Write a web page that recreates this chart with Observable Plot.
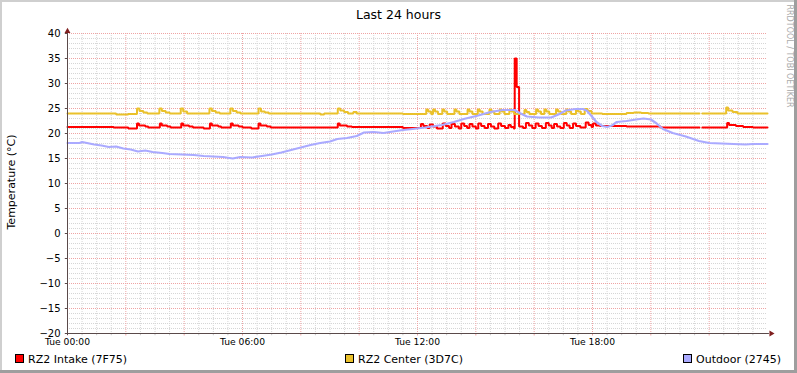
<!DOCTYPE html>
<html><head><meta charset="utf-8">
<script src="https://cdn.jsdelivr.net/npm/d3@7"></script>
<script src="https://cdn.jsdelivr.net/npm/@observablehq/plot@0.6"></script>
<style>
body{margin:0;background:#fff;}
#chart{position:relative;width:797px;height:373px;background:#fff;overflow:hidden;font-family:"DejaVu Sans",sans-serif;}
#chart svg{position:absolute;left:0;top:0;}
.t{position:absolute;white-space:nowrap;color:#000;}
.sw{position:absolute;width:9px;height:9px;box-sizing:border-box;border:1px solid #000;}
.edge{position:absolute;}
</style></head><body><div id="chart"></div>
<script>
// ---- data (minutes since Tue 00:00, °C) ----
const title = "Last 24 hours";
const yLabel = "Temperature (°C)";
const credit = "RRDTOOL / TOBI OETIKER";
const yTicks = [-20,-15,-10,-5,0,5,10,15,20,25,30,35,40];
const xTicks = [0,360,720,1080];
const xTickLabels = ["Tue 00:00","Tue 06:00","Tue 12:00","Tue 18:00"];
const seriesNames = ["RZ2 Intake (7F75)","RZ2 Center (3D7C)","Outdoor (2745)"];
const seriesColors = ["#ff0000","#eac12b","#aaaaff"];

const intake = [[0,21.3],[95,21.2],[125,21.0],[143,22.0],[147,21.6],[160,21.4],[166,21.2],
[190,22.0],[194,21.6],[205,21.4],[212,21.2],[234,22.0],[238,21.6],[250,21.4],[258,21.2],
[280,21.0],[293,22.0],[297,21.6],[310,21.4],[316,21.2],[336,22.0],[340,21.6],[352,21.4],[360,21.2],
[378,21.0],[393,22.0],[397,21.6],[410,21.4],[418,21.2],[556,22.0],[560,21.6],[575,21.4],[585,21.3],
[690,21.1],[727,21.9],[732,21.5],[740,21.1],[745,21.8],[752,21.4],[760,21.0],[772,22.0],[778,21.5],[785,21.1],
[790,21.9],[797,21.4],[805,21.0],[810,22.0],[816,21.5],[822,21.1],[827,21.9],[833,21.4],[840,21.0],
[845,22.0],[851,21.5],[858,21.1],[865,21.9],[871,21.4],[878,21.0],[886,22.0],[892,21.5],[900,21.1],
[907,21.7],[912,21.3],[918,21.0],[920,35.0],[924,29.3],[929,21.4],[937,21.1],[943,22.1],[949,21.6],[956,21.1],
[963,22.0],[969,21.5],[976,21.1],[984,22.1],[990,21.6],[996,21.1],[1001,21.9],[1007,21.4],[1014,21.1],
[1021,22.1],[1027,21.6],[1033,21.1],[1040,22.0],[1046,21.5],[1055,21.2],[1066,22.2],[1072,21.7],[1078,21.3],
[1081,22.0],[1087,21.6],[1095,21.5],[1150,21.4],[1220,21.2],[1300,21.2],[1302,NaN],[1306,21.2],
[1357,22.1],[1361,21.7],[1375,21.5],[1390,21.3],[1410,21.2],[1440,21.2]];

const center = [[0,24.0],[100,23.8],[125,23.9],[143,25.0],[148,24.5],[156,24.2],[164,24.0],
[189,25.0],[194,24.5],[202,24.2],[210,24.0],[233,25.0],[238,24.4],[246,24.0],
[292,25.0],[297,24.5],[305,24.2],[313,24.0],[335,25.0],[340,24.5],[348,24.2],[356,24.0],
[393,25.0],[398,24.4],[406,24.2],[414,24.0],[520,23.8],[528,24.0],[556,25.0],[561,24.6],[569,24.3],[577,24.0],
[588,24.3],[595,24.0],[690,23.9],
[738,24.8],[742,24.4],[748,23.9],[752,24.8],[756,24.4],[762,23.9],[771,24.8],[775,24.4],[781,23.9],
[796,24.8],[800,24.4],[806,23.9],[823,24.8],[827,24.4],[833,23.9],[844,24.8],[848,24.4],[854,23.9],
[868,24.8],[872,24.4],[878,23.9],[889,24.8],[893,24.4],[899,23.9],[909,24.8],[913,24.4],[919,23.9],
[940,24.7],[944,24.3],[950,23.9],[964,24.8],[968,24.4],[974,23.9],[981,24.8],[985,24.4],[991,23.9],
[1005,24.8],[1009,24.4],[1015,23.9],[1026,24.8],[1030,24.4],[1036,23.9],[1046,24.8],[1050,24.4],[1056,23.9],
[1064,24.9],[1070,24.5],[1078,24.0],[1100,23.9],[1150,24.1],[1165,24.2],[1180,24.1],[1195,24.0],
[1300,24.0],[1302,NaN],[1306,24.0],[1355,25.2],[1359,24.6],[1368,24.3],[1378,24.0],[1440,24.0]];

const outdoor = [[0,18.1],[25,18.1],[30,18.3],[40,18.1],[55,17.8],[70,17.6],[85,17.3],[100,17.4],[115,17.0],
[130,16.8],[145,16.4],[160,16.6],[175,16.3],[195,16.1],[210,15.9],[235,15.8],[260,15.7],[280,15.5],[300,15.4],
[320,15.3],[340,15.0],[355,15.3],[380,15.2],[400,15.5],[420,15.8],[440,16.2],[460,16.7],[480,17.2],[500,17.7],
[520,18.1],[540,18.4],[555,18.9],[575,19.1],[595,19.5],[610,20.2],[630,20.3],[650,20.1],[670,20.4],[690,20.7],
[710,20.9],[735,21.2],[770,21.7],[795,22.3],[815,22.9],[845,23.6],[870,24.3],[895,24.7],[920,24.7],[930,24.1],
[945,23.4],[970,23.2],[995,23.2],[1010,23.8],[1025,24.6],[1045,24.9],[1060,24.9],[1068,24.6],[1078,23.5],
[1088,22.3],[1100,21.5],[1110,21.3],[1120,21.6],[1130,22.3],[1150,22.5],[1170,22.8],[1185,23.0],[1200,22.8],
[1212,22.0],[1225,20.9],[1245,20.1],[1272,19.4],[1299,18.5],[1320,18.1],[1345,18.0],[1370,17.9],[1395,17.8],
[1410,17.9],[1440,17.9]];

// ---- build ----
const seriesData = [intake, center, outdoor];
const rows = s => s.map(([t, v]) => ({t, v}));
const minorY = d3.range(-19, 40).filter(d => d % 5 !== 0);
const majorX = d3.range(0, 1440, 120);
const minorX = d3.range(30, 1440, 30).filter(d => d % 120 !== 0);
const axisColor = "#5a4a4a", arrowColor = "#7f1f1f";
const majorGrid = "#efa4a4", minorGrid = "#d6d6d6";

const svg = Plot.plot({
  width: 797, height: 373,
  marginTop: 33, marginRight: 30, marginBottom: 40, marginLeft: 67,
  style: {fontFamily: "'DejaVu Sans', sans-serif", background: "transparent", color: "#000", overflow: "visible"},
  x: {type: "linear", domain: [0, 1440]},
  y: {type: "linear", domain: [-20, 40]},
  marks: [
    Plot.ruleY(minorY, {stroke: minorGrid, strokeDasharray: "1,1"}),
    Plot.ruleX(minorX, {stroke: minorGrid, strokeDasharray: "1,1"}),
    Plot.ruleY(yTicks.filter(d => d > -20), {stroke: majorGrid, strokeDasharray: "1,1"}),
    Plot.ruleX(majorX.filter(d => d > 0), {stroke: majorGrid, strokeDasharray: "1,1"}),
    Plot.ruleX(minorX, {y1: -20.45, y2: -20, stroke: "#c8c8c8"}),
    Plot.ruleX(majorX, {y1: -20.5, y2: -20, stroke: majorGrid}),
    Plot.ruleY(yTicks, {x1: -4.5, x2: 0, stroke: axisColor}),
    Plot.axisY(yTicks, {tickSize: 0, tickPadding: 7, fontSize: 10, label: null}),
    Plot.axisX(xTicks, {tickSize: 0, tickPadding: 5, fontSize: 9.2, label: null,
      tickFormat: d => xTickLabels[xTicks.indexOf(d)]}),
    Plot.line(rows(intake), {x: "t", y: "v", stroke: seriesColors[0], strokeWidth: 2, curve: "step-after", strokeLinejoin: "miter"}),
    Plot.line(rows(center), {x: "t", y: "v", stroke: seriesColors[1], strokeWidth: 2, curve: "step-after", strokeLinejoin: "miter"}),
    Plot.line(rows(outdoor), {x: "t", y: "v", stroke: seriesColors[2], strokeWidth: 2.2, curve: "linear"}),
    Plot.ruleY([-20], {x1: -1, x2: 1444, stroke: axisColor}),
    Plot.ruleX([0], {y1: -20.4, y2: 40.3, stroke: axisColor}),
    Plot.dot([0], {x: 1447.5, y: -20, symbol: "triangle", rotate: 90, r: 2.2, fill: arrowColor, stroke: "none"}),
    Plot.dot([0], {x: 0, y: 40.45, symbol: "triangle", rotate: 0, r: 2.2, fill: arrowColor, stroke: "none"})
  ]
});

const chart = document.getElementById("chart");
chart.appendChild(svg);

function addDiv(cls, css, text) {
  const d = document.createElement("div");
  d.className = cls;
  Object.assign(d.style, css);
  if (text != null) d.textContent = text;
  chart.appendChild(d);
  return d;
}
// title
addDiv("t", {left: "0px", top: "7.5px", width: "797px", textAlign: "center", fontSize: "12.5px", lineHeight: "13px"}, title);
// y label
addDiv("t", {left: "10.5px", top: "181.5px", fontSize: "11px", lineHeight: "11px", transform: "translate(-50%,-50%) rotate(-90deg)"}, yLabel);
// credit
addDiv("t", {left: "789px", top: "56px", fontSize: "8px", lineHeight: "8px", color: "#aaaaaa", transform: "translate(-50%,-50%) rotate(90deg)"}, credit);
// legend
const legendBoxX = [15, 345, 683];
seriesNames.forEach((name, i) => {
  addDiv("sw", {left: legendBoxX[i] + "px", top: "354px", background: seriesColors[i]});
  addDiv("t", {left: (legendBoxX[i] + 13) + "px", top: "354px", fontSize: "11px", lineHeight: "11px"}, name);
});
// frame shading
addDiv("edge", {left: "0px", top: "0px", width: "797px", height: "2px", background: "#cfcfcf"});
addDiv("edge", {left: "0px", top: "0px", width: "2px", height: "373px", background: "#cfcfcf"});
addDiv("edge", {left: "794px", top: "0px", width: "3px", height: "373px", background: "#9e9e9e"});
addDiv("edge", {left: "0px", top: "370px", width: "797px", height: "3px", background: "#9e9e9e"});
</script>
</body></html>
